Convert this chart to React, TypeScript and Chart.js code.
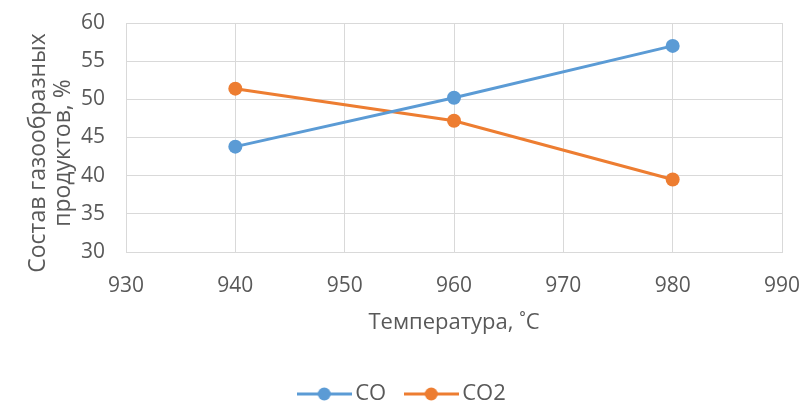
import React, { useEffect, useRef } from "react";
import { Chart, registerables } from "chart.js";

Chart.register(...registerables);

const temperatures = [940, 960, 980];
const coValues = [43.8, 50.2, 57.0];
const co2Values = [51.4, 47.2, 39.5];
const seriesNames = ["CO", "CO2"];
const seriesColors = ["#5B9BD5", "#ED7D31"];
const xTitle = "Температура, ˚С";
const yTitleLines = ["Состав газообразных", "продуктов, %"];

const FONT = "'Open Sans', 'Noto Sans', sans-serif";
const TEXT = "#595959";
const FS = 21;
const CANVAS_H = 415;

function legendIcon(color: string): HTMLCanvasElement {
  const c = document.createElement("canvas");
  c.width = 55;
  c.height = 16;
  const ctx = c.getContext("2d")!;
  ctx.strokeStyle = color;
  ctx.lineWidth = 3;
  ctx.beginPath();
  ctx.moveTo(0, 8);
  ctx.lineTo(55, 8);
  ctx.stroke();
  ctx.fillStyle = color;
  ctx.beginPath();
  ctx.arc(27.5, 8, 6.5, 0, Math.PI * 2);
  ctx.fill();
  return c;
}

const yTitlePlugin = {
  id: "yTitlePlugin",
  afterDraw(chart: any) {
    const ctx = chart.ctx;
    ctx.save();
    ctx.fillStyle = TEXT;
    ctx.font = `23px ${FONT}`;
    ctx.textAlign = "center";
    ctx.textBaseline = "middle";
    const cy = 153;
    const xs = [38, 63];
    yTitleLines.forEach((line, i) => {
      ctx.save();
      ctx.translate(xs[i], cy);
      ctx.rotate(-Math.PI / 2);
      ctx.fillText(line, 0, 0);
      ctx.restore();
    });
    ctx.restore();
  },
};

export default function App() {
  const ref = useRef<HTMLCanvasElement | null>(null);
  useEffect(() => {
    if (!ref.current) return;
    const icons = seriesColors.map(legendIcon);
    const chart = new Chart(ref.current, {
      type: "line",
      data: {
        datasets: [
          {
            label: seriesNames[0],
            data: temperatures.map((t, i) => ({ x: t, y: coValues[i] })),
            borderColor: seriesColors[0],
            backgroundColor: seriesColors[0],
            borderWidth: 3,
            pointRadius: 7,
            pointHoverRadius: 7,
            pointBorderWidth: 0,
          },
          {
            label: seriesNames[1],
            data: temperatures.map((t, i) => ({ x: t, y: co2Values[i] })),
            borderColor: seriesColors[1],
            backgroundColor: seriesColors[1],
            borderWidth: 3,
            pointRadius: 7,
            pointHoverRadius: 7,
            pointBorderWidth: 0,
          },
        ],
      },
      options: {
        animation: false,
        responsive: false,
        maintainAspectRatio: false,
        layout: { padding: { left: 28, right: 21, top: 23, bottom: 0 } },
        scales: {
          x: {
            type: "linear",
            min: 930,
            max: 990,
            ticks: { stepSize: 10, color: TEXT, font: { family: FONT, size: FS }, padding: 21 },
            grid: { color: "#D9D9D9", lineWidth: 1, drawTicks: false },
            border: { color: "#D9D9D9" },
            title: { display: true, text: xTitle, color: TEXT, font: { family: FONT, size: 22 }, padding: { top: 10, bottom: 22 } },
            afterFit(scale: any) {
              scale.height = 106;
              scale.paddingLeft = 0;
              scale.paddingRight = 0;
            },
          },
          y: {
            min: 30,
            max: 60,
            ticks: { stepSize: 5, color: TEXT, font: { family: FONT, size: FS }, padding: 21 },
            grid: { color: "#D9D9D9", lineWidth: 1, drawTicks: false },
            border: { color: "#D9D9D9" },
            afterFit(scale: any) {
              scale.width = 98;
              scale.paddingTop = 0;
              scale.paddingBottom = 0;
            },
          },
        },
        plugins: {
          tooltip: { enabled: false },
          legend: {
            position: "bottom",
            labels: {
              color: TEXT,
              font: { family: FONT, size: 22 },
              usePointStyle: true,
              pointStyleWidth: 40,
              padding: 25,
              generateLabels: (ch: any) =>
                ch.data.datasets.map((ds: any, i: number) => ({
                  text: ds.label,
                  fillStyle: ds.borderColor,
                  strokeStyle: ds.borderColor,
                  pointStyle: icons[i],
                  datasetIndex: i,
                  hidden: false,
                  lineWidth: 0,
                  fontColor: TEXT,
                })),
            },
          },
        },
      },
      plugins: [yTitlePlugin],
    } as any);
    return () => chart.destroy();
  }, []);
  return (
    <div style={{ position: "fixed", left: 0, top: 0, width: 803, height: 403, overflow: "hidden", background: "#fff" }}>
      <canvas ref={ref} width={803} height={CANVAS_H} style={{ width: 803, height: CANVAS_H, display: "block" }} />
    </div>
  );
}
